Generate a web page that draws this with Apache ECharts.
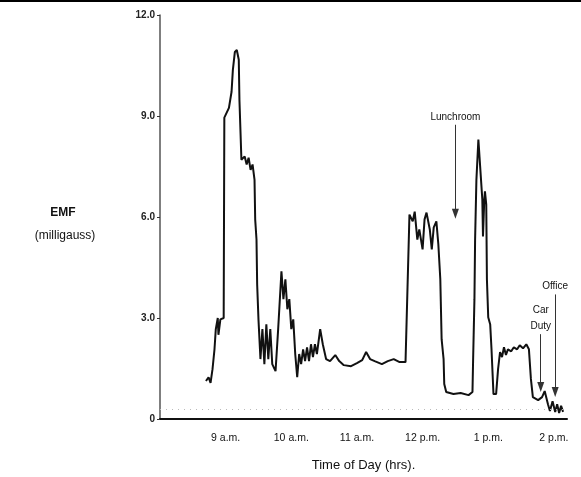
<!doctype html>
<html>
<head>
<meta charset="UTF-8">
<title>EMF exposure over the day</title>
<script src="https://cdn.jsdelivr.net/npm/echarts@6/dist/echarts.min.js"></script>
<style>
  html, body { margin: 0; padding: 0; background: #fff; }
  #main { width: 581px; height: 477px; }
</style>
</head>
<body>
<div id="main"></div>
<script>
// time of day in decimal hours (8 = 8 a.m.)
var times = [8.70, 8.74, 8.77, 8.80, 8.83, 8.85, 8.88, 8.89, 8.92, 8.97, 8.98, 9.05, 9.09, 9.11, 9.14, 9.17, 9.20, 9.21, 9.23, 9.24,
  9.29, 9.32, 9.35, 9.38, 9.41, 9.44, 9.45, 9.47, 9.48, 9.50, 9.53, 9.56, 9.59, 9.62, 9.65, 9.68, 9.71, 9.76, 9.80, 9.85,
  9.88, 9.91, 9.94, 9.97, 10.00, 10.03, 10.06, 10.09, 10.12, 10.15, 10.18, 10.21, 10.24, 10.27, 10.30, 10.33, 10.36, 10.39, 10.44, 10.48,
  10.53, 10.59, 10.67, 10.73, 10.80, 10.91, 11.00, 11.08, 11.14, 11.20, 11.27, 11.38, 11.47, 11.56, 11.65, 11.74, 11.77, 11.79, 11.80, 11.85,
  11.88, 11.92, 11.95, 12.00, 12.03, 12.06, 12.11, 12.14, 12.17, 12.21, 12.24, 12.27, 12.29, 12.32, 12.33, 12.36, 12.47, 12.58, 12.70, 12.76,
  12.77, 12.79, 12.80, 12.82, 12.85, 12.88, 12.91, 12.92, 12.94, 12.95, 12.97, 12.98, 13.00, 13.03, 13.05, 13.08, 13.12, 13.15, 13.18, 13.21,
  13.24, 13.27, 13.30, 13.35, 13.39, 13.44, 13.48, 13.53, 13.58, 13.62, 13.65, 13.68, 13.76, 13.82, 13.86, 13.91, 13.94, 13.98, 14.02, 14.05,
  14.08, 14.11, 14.14];
// EMF readings (milligauss)
var emf = [1.13, 1.24, 1.07, 1.48, 2.07, 2.67, 3.00, 2.50, 2.96, 3.00, 8.95, 9.24, 9.72, 10.37, 10.90, 10.96, 10.67, 9.48, 8.30, 7.70,
  7.80, 7.56, 7.76, 7.40, 7.56, 7.10, 5.93, 5.33, 4.00, 2.96, 1.78, 2.67, 1.63, 2.81, 1.78, 2.67, 1.63, 1.42, 2.67, 4.39,
  3.56, 4.15, 3.26, 3.56, 2.67, 2.96, 1.93, 1.24, 1.93, 1.63, 2.07, 1.72, 2.13, 1.72, 2.22, 1.84, 2.22, 1.93, 2.67, 2.22,
  1.78, 1.72, 1.90, 1.72, 1.60, 1.57, 1.66, 1.75, 1.99, 1.78, 1.72, 1.63, 1.72, 1.78, 1.69, 1.69, 1.72, 5.33, 6.07, 5.87,
  6.16, 5.33, 5.63, 5.04, 5.93, 6.13, 5.63, 5.04, 5.69, 5.87, 5.19, 4.15, 2.37, 1.78, 1.04, 0.80, 0.74, 0.77, 0.71, 0.80,
  1.78, 3.56, 5.33, 7.11, 8.30, 8.25, 6.52, 5.42, 6.52, 6.76, 6.37, 4.15, 3.02, 2.81, 2.07, 0.74, 0.74, 1.48, 1.99, 1.84,
  2.13, 1.90, 2.07, 2.01, 2.13, 2.07, 2.19, 2.10, 2.22, 2.07, 1.19, 0.65, 0.56, 0.65, 0.83, 0.44, 0.24, 0.53, 0.21, 0.44,
  0.18, 0.39, 0.21];

var yTicks = [0, 3, 6, 9, 12];
var xTickHours = [9, 10, 11, 12, 13, 14];
var xTickLabels = ['9 a.m.', '10 a.m.', '11 a.m.', '12 p.m.', '1 p.m.', '2 p.m.'];
var baselineLevel = 0.3;

// event annotations: label, time, arrow top, arrow tip
var noteNames = ['Lunchroom', 'Car\nDuty', 'Office'];
var noteTimes = [12.5, 13.8, 14.02];
var noteTops = [8.74, 2.52, 3.7];
var noteTips = [6.1, 0.95, 0.8];

var FONT = '"Liberation Sans", Arial, sans-serif';

var points = [];
for (var i = 0; i < times.length; i++) {
  points.push([times[i], emf[i]]);
}

var notes = [];
for (var j = 0; j < noteNames.length; j++) {
  notes.push([
    { coord: [noteTimes[j], noteTops[j]], name: noteNames[j] },
    { coord: [noteTimes[j], noteTips[j]] }
  ]);
}

var myChart = echarts.init(document.getElementById('main'));

var option = {
  animation: false,
  backgroundColor: '#fff',
  grid: { left: 160, right: 14, top: 15, bottom: 57 },
  xAxis: {
    type: 'value',
    min: 8,
    max: 14.2,
    interval: 1,
    name: 'Time of Day (hrs).',
    nameLocation: 'middle',
    nameGap: 40,
    nameTextStyle: { fontFamily: FONT, fontSize: 13, color: '#111' },
    axisLine: { lineStyle: { color: '#111', width: 2 } },
    axisTick: { show: false },
    splitLine: { show: false },
    axisLabel: {
      margin: 14,
      fontFamily: FONT,
      fontSize: 10.5,
      color: '#111',
      formatter: function (v) {
        var k = xTickHours.indexOf(v);
        return k >= 0 ? xTickLabels[k] : '';
      }
    }
  },
  yAxis: {
    type: 'value',
    min: 0,
    max: 12,
    interval: 3,
    axisLine: { show: true, lineStyle: { color: '#555', width: 1.5 } },
    axisTick: { show: true, length: 3, lineStyle: { color: '#333' } },
    splitLine: { show: false },
    axisLabel: {
      margin: 5,
      fontFamily: FONT,
      fontSize: 10,
      fontWeight: 'bold',
      color: '#222',
      formatter: function (v) {
        return yTicks.indexOf(v) >= 0 ? (v === 0 ? '0' : v.toFixed(1)) : '';
      }
    }
  },
  graphic: [
    { type: 'line', shape: { x1: 0, y1: 1, x2: 581, y2: 1 }, style: { stroke: '#000', lineWidth: 2 } },
    { type: 'text', x: 63, y: 213, style: { text: 'EMF', font: 'bold 12px ' + FONT, fill: '#111', textAlign: 'center', textVerticalAlign: 'middle' } },
    { type: 'text', x: 65, y: 236, style: { text: '(milligauss)', font: '12px ' + FONT, fill: '#111', textAlign: 'center', textVerticalAlign: 'middle' } }
  ],
  series: [
    {
      type: 'line',
      data: points,
      symbol: 'none',
      lineStyle: { color: '#111', width: 2 },
      markLine: {
        silent: true,
        symbol: ['none', 'none'],
        label: { show: false },
        lineStyle: { color: '#bbb', type: [1, 5], width: 1.2 },
        data: [{ yAxis: baselineLevel }]
      }
    },
    {
      type: 'line',
      data: [],
      markLine: {
        silent: true,
        symbol: ['none', 'triangle'],
        symbolSize: [7, 10],
        lineStyle: { color: '#333', type: 'solid', width: 1 },
        label: {
          show: true,
          position: 'start',
          distance: 0,
          formatter: '{b}',
          fontFamily: FONT,
          fontSize: 10,
          lineHeight: 16,
          color: '#111'
        },
        data: notes
      }
    }
  ]
};

myChart.setOption(option);
</script>
</body>
</html>
